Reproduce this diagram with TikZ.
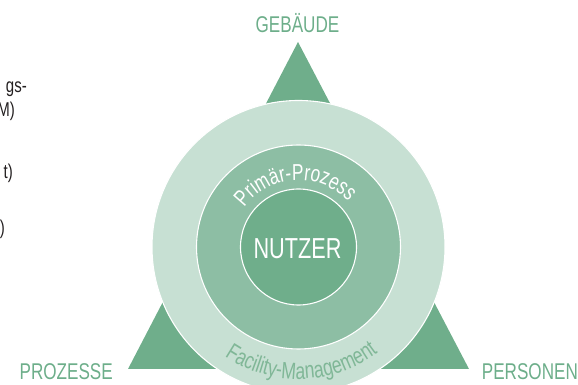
\documentclass[tikz,border=0pt]{standalone}
\usepackage{fontspec}
\setmainfont{Liberation Sans}[FakeStretch=0.75]
\usetikzlibrary{decorations.text}
\definecolor{gdark}{HTML}{6FAE8B}
\definecolor{gmid}{HTML}{8DBEA4}
\definecolor{glight}{HTML}{C7E0D3}
\definecolor{glabel}{HTML}{6DAE8A}
\definecolor{gfm}{HTML}{80B797}
\definecolor{fragtext}{HTML}{231F20}
\newcommand{\fsz}[1]{\fontsize{#1}{#1}\selectfont}
\tikzset{
  cornerlabel/.style={inner sep=0pt, text=glabel, font=\fsz{22.8}},
  fragment/.style={inner sep=0pt, anchor=base east, text=fragtext, font=\fsz{20}},
  ring/.style={draw=white, line width=1.1pt}
}
\begin{document}
\begin{tikzpicture}[x=1pt,y=1pt]
\useasboundingbox (0,0) rectangle (578,385);
\clip (0,0) rectangle (578,385);
\coordinate (C) at (298.5,138);
% triangle
\fill[gdark] (128,16) -- (469,16) -- (298,343) -- cycle;
% rings
\filldraw[ring, fill=glight] (C) circle[radius=146.5];
\filldraw[ring, fill=gmid] (C) circle[radius=102];
\filldraw[ring, fill=gdark] (C) circle[radius=58];
% centre
\node[inner sep=0pt, anchor=base, text=white, font=\fsz{28.9}] (nutzer) at (297.5,126.7) {NUTZER};
% curved texts
\path[decorate, decoration={text along path, text align=center,
  text={|\fsz{23}\color{white}|Primär-Prozess}}]
  (C) ++(146:67) arc[start angle=146, end angle=40, radius=67];
\path[decorate, decoration={text along path, text align=center,
  text={|\fsz{23.5}\color{gfm}|Facility-Management}}]
  (C) ++(-127:132) arc[start angle=-127, end angle=-50, radius=132];
% corner labels
\node[cornerlabel, anchor=base] (gebaeude) at (297.5,352.3) {GEBÄUDE};
\node[cornerlabel, anchor=base east] (prozesse) at (113,5.7) {PROZESSE};
\node[cornerlabel, anchor=base west] (personen) at (481.7,5.7) {PERSONEN};
% cut-off text at the left edge
\node[fragment] (f1) at (27,292) {gs-};
\node[fragment] (f2) at (15,268) {M)};
\node[fragment] (f3) at (13,206) {t)};
\node[fragment] (f4) at (5,150) {)};
\end{tikzpicture}
\end{document}
